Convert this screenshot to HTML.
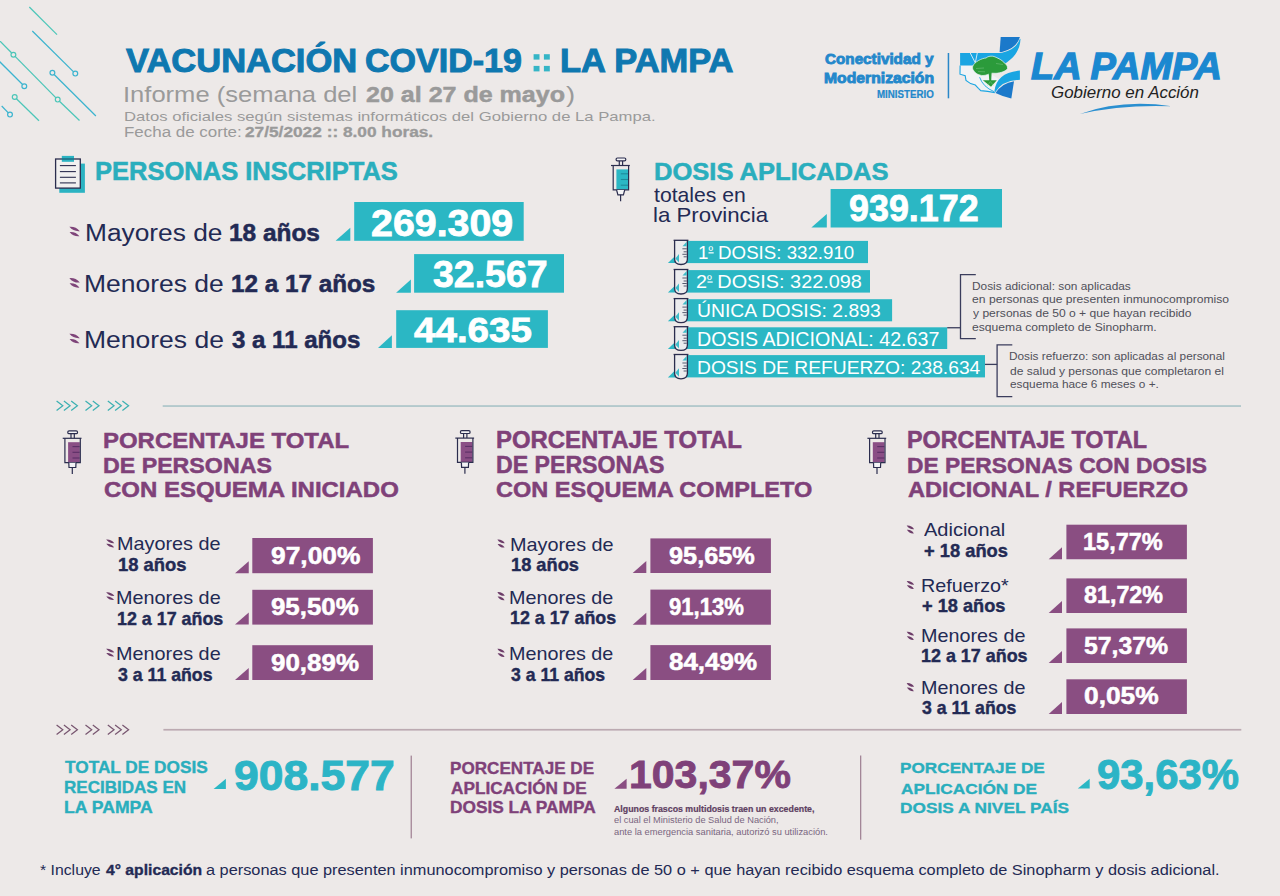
<!DOCTYPE html>
<html><head><meta charset="utf-8"><title>Vacunación COVID-19 La Pampa</title><style>
html,body{margin:0;padding:0;}
body{width:1280px;height:896px;background:#ede9e8;position:relative;overflow:hidden;font-family:"Liberation Sans",sans-serif;}
.t{position:absolute;white-space:nowrap;transform-origin:0 0;}
svg.bg{position:absolute;left:0;top:0;}
</style></head><body>
<svg class="bg" width="1280" height="896" viewBox="0 0 1280 896">
<line x1="29.3" y1="7" x2="57" y2="34.6" stroke="#4cc6b8" stroke-width="1.25"/>
<line x1="32.3" y1="31" x2="73.6" y2="71.91" stroke="#3cb4cf" stroke-width="1.25"/>
<circle cx="75.3" cy="73.6" r="2.4" fill="#ede9e8" stroke="#3cb4cf" stroke-width="1.2"/>
<line x1="-1" y1="40" x2="11.72" y2="52.99" stroke="#4cc6b8" stroke-width="1.25"/>
<circle cx="13.4" cy="54.7" r="2.4" fill="#ede9e8" stroke="#4cc6b8" stroke-width="1.2"/>
<line x1="15.1" y1="56.4" x2="56" y2="97.9" stroke="#4cc6b8" stroke-width="1.25"/>
<circle cx="57.7" cy="99.6" r="2.4" fill="#ede9e8" stroke="#4cc6b8" stroke-width="1.2"/>
<line x1="59.43" y1="101.26" x2="79.5" y2="120.5" stroke="#4cc6b8" stroke-width="1.25"/>
<line x1="-1" y1="61" x2="22.6" y2="84.51" stroke="#3cb4cf" stroke-width="1.25"/>
<circle cx="24.3" cy="86.2" r="2.4" fill="#ede9e8" stroke="#3cb4cf" stroke-width="1.2"/>
<circle cx="52.4" cy="72.8" r="2.4" fill="#ede9e8" stroke="#3cb4cf" stroke-width="1.2"/>
<line x1="54.1" y1="74.49" x2="95.9" y2="116" stroke="#3cb4cf" stroke-width="1.25"/>
<circle cx="14.7" cy="97" r="2.4" fill="#ede9e8" stroke="#4cc6b8" stroke-width="1.2"/>
<line x1="16.41" y1="98.68" x2="39" y2="120.8" stroke="#4cc6b8" stroke-width="1.25"/>
<line x1="1.7" y1="106" x2="8.33" y2="112.87" stroke="#3cb4cf" stroke-width="1.25"/>
<circle cx="10" cy="114.6" r="2.4" fill="#ede9e8" stroke="#3cb4cf" stroke-width="1.2"/>
<rect x="533.6" y="54.2" width="5.9" height="5.4" fill="#35b5c6"/>
<rect x="533.6" y="65.9" width="5.9" height="5.5" fill="#35b5c6"/>
<rect x="543.9" y="54.2" width="5.9" height="5.4" fill="#35b5c6"/>
<rect x="543.9" y="65.9" width="5.9" height="5.5" fill="#35b5c6"/>
<path d="M960.1,65.6 L960,74.2 L965.2,75.8 L966,80.4 L970.6,83.6 L975.3,85.1 L978.4,88.3 L980.8,90.6 L987.8,91.4 L994.8,92.6 L1000,80 L985,70 L973,65.6 Z" fill="#f1f3f5"/>
<path d="M1000.7,37.1 L1019.9,37.1 Q1016.5,48.8 1001.2,52.2 L999.6,52 Z" fill="#1b79ca"/>
<path d="M1019.9,38.8 Q1016.5,49.8 1001.2,52.9 L960.1,52.9 L960.1,65.6 L973.5,65.6 L986,58 L998,58 L1005,63.6 C1012,59 1020,52 1020.5,39 Z" fill="#1aa5e2"/>
<g stroke="#e4f1f7" stroke-width="0.9"><line x1="970.2" y1="52.9" x2="975.3" y2="62.8"/><line x1="977.3" y1="52.9" x2="975.3" y2="62.8"/></g>
<path d="M994.4,91.2 Q996.5,72.5 1019.9,70.5 L1019.9,79.7 Q1002,80.5 995,92.4 Z" fill="#1aa5e2"/>
<path d="M1014,81.2 L1011.3,98.5 Q1002.5,96.5 995.5,93 Q1002,83 1014,81.2 Z" fill="#1b79ca"/>
<path d="M960.1,65.6 L960,74.2 L965.2,75.8 L966,80.4 L970.6,83.6 L975.3,85.1 L978.4,88.3 L980.8,90.6 L987.8,91.4 L994.8,92.6" fill="none" stroke="#1aa5e2" stroke-width="1.1"/>
<path d="M979.6,77.2 Q983,87 994,91.6" fill="none" stroke="#1aa5e2" stroke-width="0.9"/>
<path d="M972.7,66.5 C974,62 982,58.2 986,58 C988,56 992,55.8 994,56.5 C998,58 1002,60 1004,62.5 C1006,64 1008,66 1007.5,68.8 C1006,71 1001,73 996,73.3 L992,73.2 C988,74 986,75.6 983,75.5 C979,75.6 975,73 974,71 C972.5,69.5 972.4,68 972.7,66.5 Z" fill="#2b9b3b" stroke="#e8f3f7" stroke-width="0.7"/>
<g fill="#2b9b3b"><polygon points="988.7,72.5 991.6,72.5 991.2,81 989.3,81"/><polygon points="982.9,80.2 996.8,80.2 991,86.8"/></g>
<g stroke="#8fd19a" stroke-width="0.5" opacity="0.8"><line x1="976" y1="68.5" x2="984" y2="68"/><line x1="996" y1="63.5" x2="1003" y2="64.5"/><line x1="978" y1="71.5" x2="985" y2="71.8"/><line x1="990.3" y1="81.5" x2="987.5" y2="85.5"/><line x1="990.3" y1="81.5" x2="993.5" y2="85.5"/></g>
<rect x="947.7" y="53" width="1.5" height="45.3" fill="#2a87c8"/>
<path d="M1079.9,114 Q1121,99 1171.8,106.2 Q1121,104.4 1079.9,114 Z" fill="#2a8fd0"/>
<rect x="59.3" y="163.6" width="25.6" height="29.2" fill="#2bb3c2"/>
<rect x="55.6" y="159" width="24.7" height="29.1" fill="#f1f0ef" stroke="#2b2d4e" stroke-width="1.3"/>
<rect x="61.8" y="155.9" width="12.2" height="5.9" fill="#2bb3c2"/>
<line x1="61.8" y1="159" x2="74" y2="159" stroke="#1d5f78" stroke-width="1.3"/>
<line x1="59.9" y1="165.6" x2="75.9" y2="165.6" stroke="#2b2d4e" stroke-width="1.1"/>
<line x1="59.9" y1="171.6" x2="75.9" y2="171.6" stroke="#2b2d4e" stroke-width="1.1"/>
<line x1="59.9" y1="177.3" x2="75.9" y2="177.3" stroke="#2b2d4e" stroke-width="1.1"/>
<line x1="59.9" y1="182.9" x2="75.9" y2="182.9" stroke="#2b2d4e" stroke-width="1.1"/>
<rect x="354.2" y="202" width="169.5" height="38.8" fill="#2bb7c4"/>
<polygon points="335.6,240.8 350.3,240.8 350.3,227.8" fill="#2bb7c4"/>
<rect x="414.1" y="254.1" width="149.9" height="38.6" fill="#2bb7c4"/>
<polygon points="396.1,292.7 410.9,292.7 410.9,279.6" fill="#2bb7c4"/>
<rect x="396.2" y="310.2" width="151.7" height="37.7" fill="#2bb7c4"/>
<polygon points="378,347.9 391.9,347.9 391.9,335.2" fill="#2bb7c4"/>
<g transform="translate(611,157.4)" fill="none" stroke="#2b2d4e" stroke-width="1.2"><rect x="5.4" y="12" width="11.7" height="20.2" fill="#2bb7c4" stroke="none"/><rect x="5.1" y="0.6" width="9.7" height="2.9" rx="1.3" fill="#f3f3f5"/><line x1="8.3" y1="3.5" x2="8.3" y2="8.1"/><line x1="11.6" y1="3.5" x2="11.6" y2="8.1"/><line x1="0" y1="8.1" x2="18.8" y2="8.1"/><path d="M2.2,8.1 L2.2,32.4 L17.6,32.4 L17.6,8.1"/><g stroke="#1f8a9a" stroke-width="1.1"><line x1="9.8" y1="16.4" x2="17" y2="16.4"/><line x1="9.8" y1="22.1" x2="17" y2="22.1"/><line x1="9.8" y1="27.8" x2="17" y2="27.8"/></g><path d="M5.6,32.6 L6.9,37.4 L12.4,37.4 L13.7,32.6" fill="#f3f3f5"/><line x1="9.6" y1="37.4" x2="9.6" y2="43.8"/></g>
<g transform="translate(62.7,430.2)" fill="none" stroke="#2b2d4e" stroke-width="1.2"><rect x="5.4" y="12" width="11.7" height="20.2" fill="#8a4e85" stroke="none"/><rect x="5.1" y="0.6" width="9.7" height="2.9" rx="1.3" fill="#f3f3f5"/><line x1="8.3" y1="3.5" x2="8.3" y2="8.1"/><line x1="11.6" y1="3.5" x2="11.6" y2="8.1"/><line x1="0" y1="8.1" x2="18.8" y2="8.1"/><path d="M2.2,8.1 L2.2,32.4 L17.6,32.4 L17.6,8.1"/><g stroke="#5b2f66" stroke-width="1.1"><line x1="9.8" y1="16.4" x2="17" y2="16.4"/><line x1="9.8" y1="22.1" x2="17" y2="22.1"/><line x1="9.8" y1="27.8" x2="17" y2="27.8"/></g><path d="M6.1,32.6 L6.3,37.3 L13.1,37.3 L13.3,32.6" fill="#f3f3f5"/><line x1="9.6" y1="37.4" x2="9.6" y2="43.8"/></g>
<g transform="translate(455.3,430)" fill="none" stroke="#2b2d4e" stroke-width="1.2"><rect x="5.4" y="12" width="11.7" height="20.2" fill="#8a4e85" stroke="none"/><rect x="5.1" y="0.6" width="9.7" height="2.9" rx="1.3" fill="#f3f3f5"/><line x1="8.3" y1="3.5" x2="8.3" y2="8.1"/><line x1="11.6" y1="3.5" x2="11.6" y2="8.1"/><line x1="0" y1="8.1" x2="18.8" y2="8.1"/><path d="M2.2,8.1 L2.2,32.4 L17.6,32.4 L17.6,8.1"/><g stroke="#5b2f66" stroke-width="1.1"><line x1="9.8" y1="16.4" x2="17" y2="16.4"/><line x1="9.8" y1="22.1" x2="17" y2="22.1"/><line x1="9.8" y1="27.8" x2="17" y2="27.8"/></g><path d="M6.1,32.6 L6.3,37.3 L13.1,37.3 L13.3,32.6" fill="#f3f3f5"/><line x1="9.6" y1="37.4" x2="9.6" y2="43.8"/></g>
<g transform="translate(867.4,430.2)" fill="none" stroke="#2b2d4e" stroke-width="1.2"><rect x="5.4" y="12" width="11.7" height="20.2" fill="#8a4e85" stroke="none"/><rect x="5.1" y="0.6" width="9.7" height="2.9" rx="1.3" fill="#f3f3f5"/><line x1="8.3" y1="3.5" x2="8.3" y2="8.1"/><line x1="11.6" y1="3.5" x2="11.6" y2="8.1"/><line x1="0" y1="8.1" x2="18.8" y2="8.1"/><path d="M2.2,8.1 L2.2,32.4 L17.6,32.4 L17.6,8.1"/><g stroke="#5b2f66" stroke-width="1.1"><line x1="9.8" y1="16.4" x2="17" y2="16.4"/><line x1="9.8" y1="22.1" x2="17" y2="22.1"/><line x1="9.8" y1="27.8" x2="17" y2="27.8"/></g><path d="M6.1,32.6 L6.3,37.3 L13.1,37.3 L13.3,32.6" fill="#f3f3f5"/><line x1="9.6" y1="37.4" x2="9.6" y2="43.8"/></g>
<rect x="830.6" y="189" width="171.4" height="38.5" fill="#2bb7c4"/>
<polygon points="811.4,227.5 826.8,227.5 826.8,214" fill="#2bb7c4"/>
<rect x="686" y="240.9" width="182" height="22.2" fill="#2bb7c4"/>
<polygon points="667.9,263.1 676,263.1 676,255.3" fill="#2bb7c4"/>
<path d="M674.6,240.3 L674.6,259 Q674.6,264.5 681,264.5 Q687.4,264.5 687.4,259 L687.4,240.3" fill="#ececee" stroke="#2b2d4e" stroke-width="1.3"/>
<polygon points="675.3,258.5 679,254 679,262.5" fill="#2bb7c4" opacity="0.9"/>
<polygon points="682.5,246.3 686.7,241.8 686.7,246.3" fill="#2bb7c4" opacity="0.9"/>
<line x1="673.6" y1="240.3" x2="688.4" y2="240.3" stroke="#2b2d4e" stroke-width="1.3"/>
<line x1="682.4" y1="248.8" x2="686.8" y2="248.8" stroke="#555a70" stroke-width="1"/>
<line x1="683.6" y1="251.8" x2="686.8" y2="251.8" stroke="#555a70" stroke-width="1"/>
<line x1="682.4" y1="254.3" x2="686.8" y2="254.3" stroke="#555a70" stroke-width="1"/>
<line x1="683.6" y1="256.8" x2="686.8" y2="256.8" stroke="#555a70" stroke-width="1"/>
<rect x="686" y="270.1" width="184" height="22.5" fill="#2bb7c4"/>
<polygon points="667.9,292.6 676,292.6 676,284.8" fill="#2bb7c4"/>
<path d="M674.6,269.5 L674.6,288.5 Q674.6,294 681,294 Q687.4,294 687.4,288.5 L687.4,269.5" fill="#ececee" stroke="#2b2d4e" stroke-width="1.3"/>
<polygon points="675.3,288 679,283.5 679,292" fill="#2bb7c4" opacity="0.9"/>
<polygon points="682.5,275.5 686.7,271 686.7,275.5" fill="#2bb7c4" opacity="0.9"/>
<line x1="673.6" y1="269.5" x2="688.4" y2="269.5" stroke="#2b2d4e" stroke-width="1.3"/>
<line x1="682.4" y1="278" x2="686.8" y2="278" stroke="#555a70" stroke-width="1"/>
<line x1="683.6" y1="281" x2="686.8" y2="281" stroke="#555a70" stroke-width="1"/>
<line x1="682.4" y1="283.5" x2="686.8" y2="283.5" stroke="#555a70" stroke-width="1"/>
<line x1="683.6" y1="286" x2="686.8" y2="286" stroke="#555a70" stroke-width="1"/>
<rect x="686" y="299.2" width="206.1" height="22.1" fill="#2bb7c4"/>
<polygon points="667.9,321.3 676,321.3 676,313.5" fill="#2bb7c4"/>
<path d="M674.6,298.6 L674.6,317.2 Q674.6,322.7 681,322.7 Q687.4,322.7 687.4,317.2 L687.4,298.6" fill="#ececee" stroke="#2b2d4e" stroke-width="1.3"/>
<polygon points="675.3,316.7 679,312.2 679,320.7" fill="#2bb7c4" opacity="0.9"/>
<polygon points="682.5,304.6 686.7,300.1 686.7,304.6" fill="#2bb7c4" opacity="0.9"/>
<line x1="673.6" y1="298.6" x2="688.4" y2="298.6" stroke="#2b2d4e" stroke-width="1.3"/>
<line x1="682.4" y1="307.1" x2="686.8" y2="307.1" stroke="#555a70" stroke-width="1"/>
<line x1="683.6" y1="310.1" x2="686.8" y2="310.1" stroke="#555a70" stroke-width="1"/>
<line x1="682.4" y1="312.6" x2="686.8" y2="312.6" stroke="#555a70" stroke-width="1"/>
<line x1="683.6" y1="315.1" x2="686.8" y2="315.1" stroke="#555a70" stroke-width="1"/>
<rect x="686" y="327.3" width="261.2" height="21.7" fill="#2bb7c4"/>
<polygon points="667.9,349 676,349 676,341.2" fill="#2bb7c4"/>
<path d="M674.6,326.7 L674.6,344.9 Q674.6,350.4 681,350.4 Q687.4,350.4 687.4,344.9 L687.4,326.7" fill="#ececee" stroke="#2b2d4e" stroke-width="1.3"/>
<polygon points="675.3,344.4 679,339.9 679,348.4" fill="#2bb7c4" opacity="0.9"/>
<polygon points="682.5,332.7 686.7,328.2 686.7,332.7" fill="#2bb7c4" opacity="0.9"/>
<line x1="673.6" y1="326.7" x2="688.4" y2="326.7" stroke="#2b2d4e" stroke-width="1.3"/>
<line x1="682.4" y1="335.2" x2="686.8" y2="335.2" stroke="#555a70" stroke-width="1"/>
<line x1="683.6" y1="338.2" x2="686.8" y2="338.2" stroke="#555a70" stroke-width="1"/>
<line x1="682.4" y1="340.7" x2="686.8" y2="340.7" stroke="#555a70" stroke-width="1"/>
<line x1="683.6" y1="343.2" x2="686.8" y2="343.2" stroke="#555a70" stroke-width="1"/>
<rect x="686" y="355.1" width="299" height="22.3" fill="#2bb7c4"/>
<polygon points="667.9,377.4 676,377.4 676,369.6" fill="#2bb7c4"/>
<path d="M674.6,354.5 L674.6,373.3 Q674.6,378.8 681,378.8 Q687.4,378.8 687.4,373.3 L687.4,354.5" fill="#ececee" stroke="#2b2d4e" stroke-width="1.3"/>
<polygon points="675.3,372.8 679,368.3 679,376.8" fill="#2bb7c4" opacity="0.9"/>
<polygon points="682.5,360.5 686.7,356 686.7,360.5" fill="#2bb7c4" opacity="0.9"/>
<line x1="673.6" y1="354.5" x2="688.4" y2="354.5" stroke="#2b2d4e" stroke-width="1.3"/>
<line x1="682.4" y1="363" x2="686.8" y2="363" stroke="#555a70" stroke-width="1"/>
<line x1="683.6" y1="366" x2="686.8" y2="366" stroke="#555a70" stroke-width="1"/>
<line x1="682.4" y1="368.5" x2="686.8" y2="368.5" stroke="#555a70" stroke-width="1"/>
<line x1="683.6" y1="371" x2="686.8" y2="371" stroke="#555a70" stroke-width="1"/>
<rect x="708.5" y="252.2" width="5.2" height="1.3" fill="#f4fbfc"/>
<rect x="707.5" y="281.4" width="5.2" height="1.3" fill="#f4fbfc"/>
<path d="M975.8,274.6 L960.5,274.6 L960.5,338.7 L975.8,338.7" fill="none" stroke="#3b3d5c" stroke-width="1.3"/>
<line x1="947.2" y1="327.75" x2="960.5" y2="327.75" stroke="#3b3d5c" stroke-width="1.3"/>
<path d="M1012.3,344.9 L997.1,344.9 L997.1,396.6 L1012.3,396.6" fill="none" stroke="#3b3d5c" stroke-width="1.3"/>
<line x1="985" y1="364.4" x2="997.1" y2="364.4" stroke="#3b3d5c" stroke-width="1.3"/>
<polyline points="56.6,401 62.8,405.8 56.6,410.6" fill="none" stroke="#3cb0b2" stroke-width="1.25"/>
<polyline points="63.9,401 70.1,405.8 63.9,410.6" fill="none" stroke="#3cb0b2" stroke-width="1.25"/>
<polyline points="71.2,401 77.4,405.8 71.2,410.6" fill="none" stroke="#3cb0b2" stroke-width="1.25"/>
<polyline points="85.5,401 91.7,405.8 85.5,410.6" fill="none" stroke="#3cb0b2" stroke-width="1.25"/>
<polyline points="92.8,401 99,405.8 92.8,410.6" fill="none" stroke="#3cb0b2" stroke-width="1.25"/>
<polyline points="107.8,401 114,405.8 107.8,410.6" fill="none" stroke="#3cb0b2" stroke-width="1.25"/>
<polyline points="115.1,401 121.3,405.8 115.1,410.6" fill="none" stroke="#3cb0b2" stroke-width="1.25"/>
<polyline points="122.4,401 128.6,405.8 122.4,410.6" fill="none" stroke="#3cb0b2" stroke-width="1.25"/>
<rect x="162.7" y="405.1" width="1078.3" height="1.9" fill="#b3c9cc"/>
<polyline points="56.6,725 62.8,729.8 56.6,734.6" fill="none" stroke="#785670" stroke-width="1.25"/>
<polyline points="63.9,725 70.1,729.8 63.9,734.6" fill="none" stroke="#785670" stroke-width="1.25"/>
<polyline points="71.2,725 77.4,729.8 71.2,734.6" fill="none" stroke="#785670" stroke-width="1.25"/>
<polyline points="85.5,725 91.7,729.8 85.5,734.6" fill="none" stroke="#785670" stroke-width="1.25"/>
<polyline points="92.8,725 99,729.8 92.8,734.6" fill="none" stroke="#785670" stroke-width="1.25"/>
<polyline points="107.8,725 114,729.8 107.8,734.6" fill="none" stroke="#785670" stroke-width="1.25"/>
<polyline points="115.1,725 121.3,729.8 115.1,734.6" fill="none" stroke="#785670" stroke-width="1.25"/>
<polyline points="122.4,725 128.6,729.8 122.4,734.6" fill="none" stroke="#785670" stroke-width="1.25"/>
<rect x="163.4" y="728.9" width="1077.9" height="1.7" fill="#bcaab1"/>
<path d="M69.4,226.84 Q73.46,231.75 79.8,231.18 Q75.74,226.27 69.4,226.84 Z" fill="#7e4479"/>
<path d="M69.6,232.03 Q73.37,236.88 79.48,236.27 Q75.71,231.42 69.6,232.03 Z" fill="#7e4479"/>
<path d="M69.4,278.14 Q73.46,283.05 79.8,282.48 Q75.74,277.57 69.4,278.14 Z" fill="#7e4479"/>
<path d="M69.6,283.33 Q73.37,288.18 79.48,287.57 Q75.71,282.72 69.6,283.33 Z" fill="#7e4479"/>
<path d="M69.4,333.84 Q73.46,338.75 79.8,338.18 Q75.74,333.27 69.4,333.84 Z" fill="#7e4479"/>
<path d="M69.6,339.03 Q73.37,343.88 79.48,343.27 Q75.71,338.42 69.6,339.03 Z" fill="#7e4479"/>
<path d="M106.1,539.53 Q109.21,543.59 114.3,543.14 Q111.19,539.08 106.1,539.53 Z" fill="#6d3d69"/>
<path d="M106.3,543.84 Q109.15,547.84 114.05,547.36 Q111.19,543.36 106.3,543.84 Z" fill="#6d3d69"/>
<path d="M106.1,592.23 Q109.21,596.29 114.3,595.84 Q111.19,591.78 106.1,592.23 Z" fill="#6d3d69"/>
<path d="M106.3,596.54 Q109.15,600.54 114.05,600.06 Q111.19,596.06 106.3,596.54 Z" fill="#6d3d69"/>
<path d="M106.1,648.73 Q109.21,652.79 114.3,652.34 Q111.19,648.28 106.1,648.73 Z" fill="#6d3d69"/>
<path d="M106.3,653.04 Q109.15,657.04 114.05,656.56 Q111.19,652.56 106.3,653.04 Z" fill="#6d3d69"/>
<path d="M497.4,539.54 Q499.98,543.64 504.8,543.23 Q502.22,539.13 497.4,539.54 Z" fill="#6d3d69"/>
<path d="M497.6,543.95 Q499.93,547.99 504.57,547.55 Q502.24,543.51 497.6,543.95 Z" fill="#6d3d69"/>
<path d="M497.4,592.14 Q499.98,596.24 504.8,595.83 Q502.22,591.73 497.4,592.14 Z" fill="#6d3d69"/>
<path d="M497.6,596.55 Q499.93,600.59 504.57,600.15 Q502.24,596.11 497.6,596.55 Z" fill="#6d3d69"/>
<path d="M497.4,648.84 Q499.98,652.94 504.8,652.53 Q502.22,648.43 497.4,648.84 Z" fill="#6d3d69"/>
<path d="M497.6,653.25 Q499.93,657.29 504.57,656.85 Q502.24,652.81 497.6,653.25 Z" fill="#6d3d69"/>
<path d="M906.7,525.44 Q909.28,529.54 914.1,529.13 Q911.52,525.03 906.7,525.44 Z" fill="#6d3d69"/>
<path d="M906.9,529.85 Q909.23,533.89 913.87,533.45 Q911.54,529.41 906.9,529.85 Z" fill="#6d3d69"/>
<path d="M906.7,580.94 Q909.28,585.04 914.1,584.63 Q911.52,580.53 906.7,580.94 Z" fill="#6d3d69"/>
<path d="M906.9,585.35 Q909.23,589.39 913.87,588.95 Q911.54,584.91 906.9,585.35 Z" fill="#6d3d69"/>
<path d="M906.7,631.84 Q909.28,635.94 914.1,635.53 Q911.52,631.43 906.7,631.84 Z" fill="#6d3d69"/>
<path d="M906.9,636.25 Q909.23,640.29 913.87,639.85 Q911.54,635.81 906.9,636.25 Z" fill="#6d3d69"/>
<path d="M906.7,683.14 Q909.28,687.24 914.1,686.83 Q911.52,682.73 906.7,683.14 Z" fill="#6d3d69"/>
<path d="M906.9,687.55 Q909.23,691.59 913.87,691.15 Q911.54,687.11 906.9,687.55 Z" fill="#6d3d69"/>
<rect x="252.3" y="538" width="120.6" height="35.2" fill="#8a4e82"/>
<polygon points="235,573.2 248.75,573.2 248.75,561.2" fill="#8a4e82"/>
<rect x="252.3" y="589.8" width="120.6" height="34.8" fill="#8a4e82"/>
<polygon points="235,624.6 248.75,624.6 248.75,612.6" fill="#8a4e82"/>
<rect x="252.3" y="645.2" width="120.6" height="34.8" fill="#8a4e82"/>
<polygon points="235,680 248.75,680 248.75,668" fill="#8a4e82"/>
<rect x="650.4" y="538.4" width="120.5" height="34.6" fill="#8a4e82"/>
<polygon points="632.7,573 646.3,573 646.3,561" fill="#8a4e82"/>
<rect x="650.4" y="589.6" width="120.5" height="35.1" fill="#8a4e82"/>
<polygon points="632.7,624.7 646.3,624.7 646.3,612.7" fill="#8a4e82"/>
<rect x="650.4" y="645.1" width="120.5" height="34.9" fill="#8a4e82"/>
<polygon points="632.7,680 646.3,680 646.3,668" fill="#8a4e82"/>
<rect x="1066.4" y="524.7" width="120.5" height="34.55" fill="#8a4e82"/>
<polygon points="1048.7,559.25 1062,559.25 1062,547.25" fill="#8a4e82"/>
<rect x="1066.4" y="578.4" width="120.5" height="34.6" fill="#8a4e82"/>
<polygon points="1048.7,613 1062,613 1062,601" fill="#8a4e82"/>
<rect x="1066.4" y="628.4" width="120.5" height="34.6" fill="#8a4e82"/>
<polygon points="1048.7,663 1062,663 1062,651" fill="#8a4e82"/>
<rect x="1066.4" y="679.3" width="120.5" height="34.7" fill="#8a4e82"/>
<polygon points="1048.7,714 1062,714 1062,702" fill="#8a4e82"/>
<rect x="410.6" y="755.6" width="1.3" height="82.8" fill="#a38697"/>
<rect x="860" y="755.5" width="1.3" height="84.2" fill="#a38697"/>
<polygon points="213.6,789.1 225.9,789.1 225.9,778.7" fill="#2bb7c4"/>
<polygon points="614.4,788.75 626.6,788.75 626.6,778.75" fill="#8a4e82"/>
<polygon points="1077.8,788.5 1089.7,788.5 1089.7,778.7" fill="#2bb7c4"/>
</svg>
<div class="t" style="left:126.34px;top:44.00px;font-size:33.72px;line-height:33.72px;color:#0f78b0;font-weight:bold;-webkit-text-stroke:1.00px #0f78b0;transform:scaleX(1.0226)">VACUNACIÓN</div>
<div class="t" style="left:365.44px;top:44.00px;font-size:33.72px;line-height:33.72px;color:#0f78b0;font-weight:bold;-webkit-text-stroke:1.00px #0f78b0;transform:scaleX(1.0087)">COVID-19</div>
<div class="t" style="left:559.67px;top:44.00px;font-size:33.72px;line-height:33.72px;color:#0f78b0;font-weight:bold;-webkit-text-stroke:1.00px #0f78b0;transform:scaleX(1.0216)">LA PAMPA</div>
<div class="t" style="left:123.20px;top:84.00px;font-size:22.53px;line-height:22.53px;color:#9a9a9a;transform:scaleX(1.1344)">Informe (semana del</div>
<div class="t" style="left:365.52px;top:84.00px;font-size:22.53px;line-height:22.53px;color:#9a9a9a;font-weight:bold;-webkit-text-stroke:0.50px #9a9a9a;transform:scaleX(1.1117)">20 al 27 de mayo</div>
<div class="t" style="left:565.86px;top:84.00px;font-size:22.53px;line-height:22.53px;color:#9a9a9a;transform:scaleX(1.2165)">)</div>
<div class="t" style="left:124.17px;top:110.00px;font-size:13.44px;line-height:13.44px;color:#9a9a9a;transform:scaleX(1.2400)">Datos oficiales según sistemas informáticos del Gobierno de La Pampa.</div>
<div class="t" style="left:124.14px;top:126.00px;font-size:13.81px;line-height:13.81px;color:#9a9a9a;transform:scaleX(1.2283)">Fecha de corte:</div>
<div class="t" style="left:245.17px;top:126.00px;font-size:13.81px;line-height:13.81px;color:#9a9a9a;font-weight:bold;-webkit-text-stroke:0.30px #9a9a9a;transform:scaleX(1.2517)">27/5/2022 :: 8.00 horas.</div>
<div class="t" style="left:825.24px;top:51.00px;font-size:15.41px;line-height:15.41px;color:#2488cb;font-weight:bold;-webkit-text-stroke:0.90px #2488cb;transform:scaleX(0.9895)">Conectividad y</div>
<div class="t" style="left:823.76px;top:71.00px;font-size:14.83px;line-height:14.83px;color:#2488cb;font-weight:bold;-webkit-text-stroke:0.90px #2488cb;transform:scaleX(1.0601)">Modernización</div>
<div class="t" style="left:877.37px;top:90.00px;font-size:10.32px;line-height:10.32px;color:#2488cb;font-weight:bold;-webkit-text-stroke:0.23px #2488cb;transform:scaleX(0.9433)">MINISTERIO</div>
<div class="t" style="left:1030.81px;top:49.00px;font-size:36.34px;line-height:36.34px;color:#1b88d0;font-weight:bold;-webkit-text-stroke:1.30px #1b88d0;font-style:italic;transform:scaleX(1.0428)">LA PAMPA</div>
<div class="t" style="left:1051.24px;top:84.00px;font-size:17.15px;line-height:17.15px;color:#222222;font-style:italic;transform:scaleX(0.9868)">Gobierno en Acción</div>
<div class="t" style="left:94.87px;top:159.00px;font-size:25.44px;line-height:25.44px;color:#2aaebd;font-weight:bold;-webkit-text-stroke:0.56px #2aaebd;transform:scaleX(1.0027)">PERSONAS INSCRIPTAS</div>
<div class="t" style="left:84.69px;top:221.00px;font-size:24.56px;line-height:24.56px;color:#232a54;transform:scaleX(1.0721)">Mayores de</div>
<div class="t" style="left:228.70px;top:221.00px;font-size:24.56px;line-height:24.56px;color:#232a54;font-weight:bold;-webkit-text-stroke:0.54px #232a54;transform:scaleX(0.9938)">18 años</div>
<div class="t" style="left:84.48px;top:272.00px;font-size:23.98px;line-height:23.98px;color:#232a54;transform:scaleX(1.1047)">Menores de</div>
<div class="t" style="left:230.91px;top:272.00px;font-size:23.98px;line-height:23.98px;color:#232a54;font-weight:bold;-webkit-text-stroke:0.53px #232a54;transform:scaleX(1.0122)">12 a 17 años</div>
<div class="t" style="left:84.48px;top:329.00px;font-size:23.26px;line-height:23.26px;color:#232a54;transform:scaleX(1.1393)">Menores de</div>
<div class="t" style="left:232.38px;top:329.00px;font-size:23.26px;line-height:23.26px;color:#232a54;font-weight:bold;-webkit-text-stroke:0.51px #232a54;transform:scaleX(1.0339)">3 a 11 años</div>
<div class="t" style="left:371.05px;top:206.00px;font-size:36.59px;line-height:36.59px;color:#ffffff;font-weight:bold;-webkit-text-stroke:0.80px #ffffff;transform:scaleX(1.0754)">269.309</div>
<div class="t" style="left:432.66px;top:257.00px;font-size:36.44px;line-height:36.44px;color:#ffffff;font-weight:bold;-webkit-text-stroke:0.80px #ffffff;transform:scaleX(1.0287)">32.567</div>
<div class="t" style="left:413.60px;top:313.00px;font-size:34.69px;line-height:34.69px;color:#ffffff;font-weight:bold;-webkit-text-stroke:0.76px #ffffff;transform:scaleX(1.1119)">44.635</div>
<div class="t" style="left:653.82px;top:160.00px;font-size:24.56px;line-height:24.56px;color:#2aaebd;font-weight:bold;-webkit-text-stroke:0.54px #2aaebd;transform:scaleX(1.0399)">DOSIS APLICADAS</div>
<div class="t" style="left:654.43px;top:185.00px;font-size:20.60px;line-height:20.60px;color:#232a54;transform:scaleX(1.0284)">totales en</div>
<div class="t" style="left:653.30px;top:205.00px;font-size:20.64px;line-height:20.64px;color:#232a54;transform:scaleX(1.0790)">la Provincia</div>
<div class="t" style="left:848.52px;top:191.00px;font-size:36.01px;line-height:36.01px;color:#ffffff;font-weight:bold;-webkit-text-stroke:0.79px #ffffff;transform:scaleX(0.9964)">939.172</div>
<div class="t" style="left:697.60px;top:244.00px;font-size:18.60px;line-height:18.60px;transform:scaleX(1.0051)"><span style="color:#ffffff;">1</span><span style="color:#ffffff;font-size:66.0%;position:relative;top:-4.40px;">º</span><span style="color:#ffffff;"> DOSIS: 332.910</span></div>
<div class="t" style="left:696.41px;top:273.00px;font-size:18.60px;line-height:18.60px;transform:scaleX(1.0671)"><span style="color:#ffffff;">2</span><span style="color:#ffffff;font-size:66.0%;position:relative;top:-4.40px;">º</span><span style="color:#ffffff;"> DOSIS: 322.098</span></div>
<div class="t" style="left:697.05px;top:302.00px;font-size:18.60px;line-height:18.60px;color:#ffffff;transform:scaleX(1.0394)">ÚNICA DOSIS: 2.893</div>
<div class="t" style="left:696.93px;top:330.00px;font-size:19.33px;line-height:19.33px;color:#ffffff;transform:scaleX(1.0162)">DOSIS ADICIONAL: 42.637</div>
<div class="t" style="left:696.96px;top:358.00px;font-size:19.04px;line-height:19.04px;color:#ffffff;transform:scaleX(1.0108)">DOSIS DE REFUERZO: 238.634</div>
<div class="t" style="left:971.95px;top:281.00px;font-size:11.20px;line-height:11.20px;color:#50505a;transform:scaleX(1.0595)">Dosis adicional: son aplicadas</div>
<div class="t" style="left:972.01px;top:294.00px;font-size:11.20px;line-height:11.20px;color:#50505a;transform:scaleX(1.0851)">en personas que presenten inmunocompromiso</div>
<div class="t" style="left:972.50px;top:308.00px;font-size:11.20px;line-height:11.20px;color:#50505a;transform:scaleX(1.0795)">y personas de 50 o + que hayan recibido</div>
<div class="t" style="left:972.01px;top:322.00px;font-size:11.20px;line-height:11.20px;color:#50505a;transform:scaleX(1.0836)">esquema completo de Sinopharm.</div>
<div class="t" style="left:1009.45px;top:351.00px;font-size:11.20px;line-height:11.20px;color:#50505a;transform:scaleX(1.0550)">Dosis refuerzo: son aplicadas al personal</div>
<div class="t" style="left:1009.92px;top:366.00px;font-size:11.20px;line-height:11.20px;color:#50505a;transform:scaleX(1.0781)">de salud y personas que completaron el</div>
<div class="t" style="left:1009.93px;top:379.00px;font-size:11.20px;line-height:11.20px;color:#50505a;transform:scaleX(1.0567)">esquema hace 6 meses o +.</div>
<div class="t" style="left:102.91px;top:429.00px;font-size:22.89px;line-height:22.89px;color:#7f4179;font-weight:bold;-webkit-text-stroke:0.50px #7f4179;transform:scaleX(1.0466)">PORCENTAJE TOTAL</div>
<div class="t" style="left:102.95px;top:455.00px;font-size:22.53px;line-height:22.53px;color:#7f4179;font-weight:bold;-webkit-text-stroke:0.50px #7f4179;transform:scaleX(1.0303)">DE PERSONAS</div>
<div class="t" style="left:103.50px;top:478.00px;font-size:22.97px;line-height:22.97px;color:#7f4179;font-weight:bold;-webkit-text-stroke:0.51px #7f4179;transform:scaleX(1.0437)">CON ESQUEMA INICIADO</div>
<div class="t" style="left:495.71px;top:429.00px;font-size:23.26px;line-height:23.26px;color:#7f4179;font-weight:bold;-webkit-text-stroke:0.51px #7f4179;transform:scaleX(1.0289)">PORCENTAJE TOTAL</div>
<div class="t" style="left:495.75px;top:454.00px;font-size:23.11px;line-height:23.11px;color:#7f4179;font-weight:bold;-webkit-text-stroke:0.51px #7f4179;transform:scaleX(1.0007)">DE PERSONAS</div>
<div class="t" style="left:496.32px;top:478.00px;font-size:22.67px;line-height:22.67px;color:#7f4179;font-weight:bold;-webkit-text-stroke:0.50px #7f4179;transform:scaleX(1.0380)">CON ESQUEMA COMPLETO</div>
<div class="t" style="left:906.64px;top:429.00px;font-size:23.40px;line-height:23.40px;color:#7f4179;font-weight:bold;-webkit-text-stroke:0.51px #7f4179;transform:scaleX(0.9987)">PORCENTAJE TOTAL</div>
<div class="t" style="left:906.67px;top:454.00px;font-size:22.67px;line-height:22.67px;color:#7f4179;font-weight:bold;-webkit-text-stroke:0.50px #7f4179;transform:scaleX(1.0054)">DE PERSONAS CON DOSIS</div>
<div class="t" style="left:907.69px;top:479.00px;font-size:22.24px;line-height:22.24px;color:#7f4179;font-weight:bold;-webkit-text-stroke:0.49px #7f4179;transform:scaleX(1.0615)">ADICIONAL / REFUERZO</div>
<div class="t" style="left:117.21px;top:535.00px;font-size:18.40px;line-height:18.40px;color:#232a54;transform:scaleX(1.0777)">Mayores de</div>
<div class="t" style="left:117.90px;top:556.00px;font-size:18.40px;line-height:18.40px;color:#232a54;font-weight:bold;-webkit-text-stroke:0.40px #232a54;transform:scaleX(1.0006)">18 años</div>
<div class="t" style="left:116.21px;top:589.00px;font-size:18.40px;line-height:18.40px;color:#232a54;transform:scaleX(1.0776)">Menores de</div>
<div class="t" style="left:116.92px;top:610.00px;font-size:18.40px;line-height:18.40px;color:#232a54;font-weight:bold;-webkit-text-stroke:0.40px #232a54;transform:scaleX(0.9715)">12 a 17 años</div>
<div class="t" style="left:116.21px;top:645.00px;font-size:18.40px;line-height:18.40px;color:#232a54;transform:scaleX(1.0776)">Menores de</div>
<div class="t" style="left:117.64px;top:666.00px;font-size:18.40px;line-height:18.40px;color:#232a54;font-weight:bold;-webkit-text-stroke:0.40px #232a54;transform:scaleX(0.9629)">3 a 11 años</div>
<div class="t" style="left:509.91px;top:536.00px;font-size:18.40px;line-height:18.40px;color:#232a54;transform:scaleX(1.0788)">Mayores de</div>
<div class="t" style="left:511.31px;top:556.00px;font-size:18.40px;line-height:18.40px;color:#232a54;font-weight:bold;-webkit-text-stroke:0.40px #232a54;transform:scaleX(0.9917)">18 años</div>
<div class="t" style="left:509.22px;top:589.00px;font-size:18.40px;line-height:18.40px;color:#232a54;transform:scaleX(1.0744)">Menores de</div>
<div class="t" style="left:509.92px;top:609.00px;font-size:18.40px;line-height:18.40px;color:#232a54;font-weight:bold;-webkit-text-stroke:0.40px #232a54;transform:scaleX(0.9705)">12 a 17 años</div>
<div class="t" style="left:509.22px;top:645.00px;font-size:18.40px;line-height:18.40px;color:#232a54;transform:scaleX(1.0744)">Menores de</div>
<div class="t" style="left:510.64px;top:666.00px;font-size:18.40px;line-height:18.40px;color:#232a54;font-weight:bold;-webkit-text-stroke:0.40px #232a54;transform:scaleX(0.9593)">3 a 11 años</div>
<div class="t" style="left:924.20px;top:521.00px;font-size:18.40px;line-height:18.40px;color:#232a54;transform:scaleX(1.0881)">Adicional</div>
<div class="t" style="left:923.67px;top:542.00px;font-size:18.40px;line-height:18.40px;color:#232a54;font-weight:bold;-webkit-text-stroke:0.40px #232a54;transform:scaleX(0.9954)">+ 18 años</div>
<div class="t" style="left:920.82px;top:577.00px;font-size:18.40px;line-height:18.40px;color:#232a54;transform:scaleX(1.0726)">Refuerzo*</div>
<div class="t" style="left:921.87px;top:597.00px;font-size:18.40px;line-height:18.40px;color:#232a54;font-weight:bold;-webkit-text-stroke:0.40px #232a54;transform:scaleX(0.9894)">+ 18 años</div>
<div class="t" style="left:920.82px;top:627.00px;font-size:18.40px;line-height:18.40px;color:#232a54;transform:scaleX(1.0755)">Menores de</div>
<div class="t" style="left:921.02px;top:647.00px;font-size:18.40px;line-height:18.40px;color:#232a54;font-weight:bold;-webkit-text-stroke:0.40px #232a54;transform:scaleX(0.9742)">12 a 17 años</div>
<div class="t" style="left:920.82px;top:679.00px;font-size:18.40px;line-height:18.40px;color:#232a54;transform:scaleX(1.0755)">Menores de</div>
<div class="t" style="left:921.74px;top:699.00px;font-size:18.40px;line-height:18.40px;color:#232a54;font-weight:bold;-webkit-text-stroke:0.40px #232a54;transform:scaleX(0.9614)">3 a 11 años</div>
<div class="t" style="left:270.90px;top:545.00px;font-size:23.40px;line-height:23.40px;color:#ffffff;font-weight:bold;-webkit-text-stroke:0.51px #ffffff;transform:scaleX(1.1271)">97,00%</div>
<div class="t" style="left:270.91px;top:596.00px;font-size:23.40px;line-height:23.40px;color:#ffffff;font-weight:bold;-webkit-text-stroke:0.51px #ffffff;transform:scaleX(1.1042)">95,50%</div>
<div class="t" style="left:270.91px;top:652.00px;font-size:23.40px;line-height:23.40px;color:#ffffff;font-weight:bold;-webkit-text-stroke:0.51px #ffffff;transform:scaleX(1.1093)">90,89%</div>
<div class="t" style="left:668.52px;top:545.00px;font-size:23.40px;line-height:23.40px;color:#ffffff;font-weight:bold;-webkit-text-stroke:0.51px #ffffff;transform:scaleX(1.0813)">95,65%</div>
<div class="t" style="left:668.58px;top:596.00px;font-size:23.40px;line-height:23.40px;color:#ffffff;font-weight:bold;-webkit-text-stroke:0.51px #ffffff;transform:scaleX(0.9452)">91,13%</div>
<div class="t" style="left:668.51px;top:651.00px;font-size:23.40px;line-height:23.40px;color:#ffffff;font-weight:bold;-webkit-text-stroke:0.51px #ffffff;transform:scaleX(1.1093)">84,49%</div>
<div class="t" style="left:1083.25px;top:531.00px;font-size:23.40px;line-height:23.40px;color:#ffffff;font-weight:bold;-webkit-text-stroke:0.51px #ffffff;transform:scaleX(1.0050)">15,77%</div>
<div class="t" style="left:1083.96px;top:584.00px;font-size:23.40px;line-height:23.40px;color:#ffffff;font-weight:bold;-webkit-text-stroke:0.51px #ffffff;transform:scaleX(0.9960)">81,72%</div>
<div class="t" style="left:1083.93px;top:635.00px;font-size:23.40px;line-height:23.40px;color:#ffffff;font-weight:bold;-webkit-text-stroke:0.51px #ffffff;transform:scaleX(1.0609)">57,37%</div>
<div class="t" style="left:1083.77px;top:685.00px;font-size:23.40px;line-height:23.40px;color:#ffffff;font-weight:bold;-webkit-text-stroke:0.51px #ffffff;transform:scaleX(1.1255)">0,05%</div>
<div class="t" style="left:64.62px;top:759.00px;font-size:17.01px;line-height:17.01px;color:#2aaebd;font-weight:bold;-webkit-text-stroke:0.37px #2aaebd;transform:scaleX(1.0144)">TOTAL DE DOSIS</div>
<div class="t" style="left:63.68px;top:780.00px;font-size:16.72px;line-height:16.72px;color:#2aaebd;font-weight:bold;-webkit-text-stroke:0.37px #2aaebd;transform:scaleX(1.0198)">RECIBIDAS EN</div>
<div class="t" style="left:63.65px;top:800.00px;font-size:16.72px;line-height:16.72px;color:#2aaebd;font-weight:bold;-webkit-text-stroke:0.37px #2aaebd;transform:scaleX(1.0547)">LA PAMPA</div>
<div class="t" style="left:234.16px;top:754.00px;font-size:43.08px;line-height:43.08px;color:#2cb4c6;font-weight:bold;-webkit-text-stroke:0.95px #2cb4c6;transform:scaleX(1.0320)">908.577</div>
<div class="t" style="left:449.98px;top:761.00px;font-size:16.72px;line-height:16.72px;color:#7f4179;font-weight:bold;-webkit-text-stroke:0.37px #7f4179;transform:scaleX(1.0238)">PORCENTAJE DE</div>
<div class="t" style="left:450.75px;top:780.00px;font-size:16.35px;line-height:16.35px;color:#7f4179;font-weight:bold;-webkit-text-stroke:0.36px #7f4179;transform:scaleX(1.0519)">APLICACIÓN DE</div>
<div class="t" style="left:449.97px;top:800.00px;font-size:16.72px;line-height:16.72px;color:#7f4179;font-weight:bold;-webkit-text-stroke:0.37px #7f4179;transform:scaleX(1.0354)">DOSIS LA PAMPA</div>
<div class="t" style="left:629.24px;top:755.00px;font-size:39.65px;line-height:39.65px;color:#7f4179;font-weight:bold;-webkit-text-stroke:0.87px #7f4179;transform:scaleX(1.0343)">103,37%</div>
<div class="t" style="left:613.92px;top:804.00px;font-size:9.60px;line-height:9.60px;color:#5e3f62;font-weight:bold;-webkit-text-stroke:0.21px #5e3f62;transform:scaleX(0.9169)">Algunos frascos multidosis traen un excedente,</div>
<div class="t" style="left:613.63px;top:815.00px;font-size:9.60px;line-height:9.60px;color:#7a6680;transform:scaleX(0.9644)">el cual el Ministerio de Salud de Nación,</div>
<div class="t" style="left:613.63px;top:827.00px;font-size:9.60px;line-height:9.60px;color:#7a6680;transform:scaleX(0.9714)">ante la emergencia sanitaria, autorizó su utilización.</div>
<div class="t" style="left:899.77px;top:760.00px;font-size:15.41px;line-height:15.41px;color:#2aaebd;font-weight:bold;-webkit-text-stroke:0.34px #2aaebd;transform:scaleX(1.1150)">PORCENTAJE DE</div>
<div class="t" style="left:900.54px;top:781.00px;font-size:15.12px;line-height:15.12px;color:#2aaebd;font-weight:bold;-webkit-text-stroke:0.33px #2aaebd;transform:scaleX(1.1413)">APLICACIÓN DE</div>
<div class="t" style="left:899.77px;top:800.00px;font-size:15.55px;line-height:15.55px;color:#2aaebd;font-weight:bold;-webkit-text-stroke:0.34px #2aaebd;transform:scaleX(1.1117)">DOSIS A NIVEL PAÍS</div>
<div class="t" style="left:1096.70px;top:753.00px;font-size:43.15px;line-height:43.15px;color:#2cb4c6;font-weight:bold;-webkit-text-stroke:0.95px #2cb4c6;transform:scaleX(0.9700)">93,63%</div>
<div class="t" style="left:40.46px;top:863.00px;font-size:14.53px;line-height:14.53px;color:#232a54;transform:scaleX(1.0886)">* Incluye</div>
<div class="t" style="left:106.44px;top:863.00px;font-size:14.53px;line-height:14.53px;color:#232a54;font-weight:bold;-webkit-text-stroke:0.32px #232a54;transform:scaleX(1.0812)">4° aplicación</div>
<div class="t" style="left:206.35px;top:863.00px;font-size:14.53px;line-height:14.53px;color:#232a54;transform:scaleX(1.1240)">a personas que presenten inmunocompromiso y personas de 50 o + que hayan recibido esquema completo de Sinopharm y dosis adicional.</div>
</body></html>
